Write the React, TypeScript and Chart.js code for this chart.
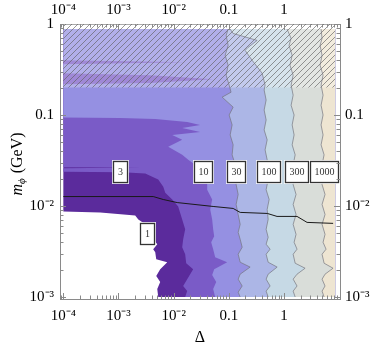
import React, { useEffect, useRef } from 'react';
import { Chart, registerables } from 'chart.js';

Chart.register(...registerables);

type P = [number, number];

// ---- axis ranges ----
const X_MIN = 8.7e-5;
const X_MAX = 10.4;
const Y_MIN = 9.5e-4;
const Y_MAX = 1.0;

// ---- data extents ----
const DELTA_MAX = 8.5;
const MASS_MIN = 1e-3;
const MASS_TOP = 0.88;
const HATCH_MASS_MIN = 0.2;

// ---- tick labels ----
const xTickValues = [1e-4, 1e-3, 1e-2, 0.1, 1];
const xTickLabels = ['10\u207B\u2074', '10\u207B\u00B3', '10\u207B\u00B2', '0.1', '1'];
const yTickValues = [1e-3, 1e-2, 0.1, 1];
const yTickLabels = ['10\u207B\u00B3', '10\u207B\u00B2', '0.1', '1'];

// ---- contour levels / colours ----
const levelNames = ['1', '3', '10', '30', '100', '300', '1000'];
const levelColors = ['#5b2b9c', '#7a5bc7', '#9590e2', '#acb6e6', '#c6d9e5', '#d9ddd9', '#eee5d2'];

// contour boundaries [Δ, m_φ], from bottom to top; value grows to the right
const contour1: P[] = [[5.26e-3, 1e-3], [5.05e-3, 1.22e-3], [5.71e-3, 1.46e-3], [4.84e-3, 1.7e-3], [5.71e-3, 2.02e-3], [7.66e-3, 2.41e-3], [4.84e-3, 2.6e-3], [4.64e-3, 3.1e-3], [4.26e-3, 3.35e-3], [5.05e-3, 3.8e-3], [4.26e-3, 4.3e-3], [4.09e-3, 5.13e-3], [3.47e-3, 5.97e-3], [2.29e-3, 7.12e-3], [2.01e-3, 7.88e-3], [4.68e-4, 8.49e-3], [1e-4, 8.71e-3], [1e-4, 0.88]];
const contour3: P[] = [[0.0162, 1e-3], [0.0176, 1.16e-3], [0.0149, 1.32e-3], [0.0226, 2.02e-3], [0.0169, 2.35e-3], [0.0162, 2.95e-3], [0.0143, 3.52e-3], [0.0149, 4.3e-3], [0.0162, 5.54e-3], [0.0143, 7.12e-3], [0.0121, 9.87e-3], [9.44e-3, 0.0118], [7.05e-3, 0.014], [6.49e-3, 0.0163], [5.26e-3, 0.0195], [4.09e-3, 0.021], [3.06e-3, 0.0227], [1.17e-3, 0.0235], [1e-4, 0.0238], [1e-4, 0.026], [2.7e-3, 0.0264], [1e-4, 0.0267], [1e-4, 0.88]];
const contour10: P[] = [[0.0567, 1e-3], [0.0521, 1.22e-3], [0.0592, 1.46e-3], [0.05, 1.74e-3], [0.0544, 2.02e-3], [0.0935, 2.41e-3], [0.0567, 2.74e-3], [0.0521, 3.35e-3], [0.048, 3.99e-3], [0.0544, 4.64e-3], [0.0521, 5.54e-3], [0.05, 7.12e-3], [0.0461, 9.16e-3], [0.05, 0.0118], [0.0406, 0.0151], [0.0406, 0.0195], [0.0344, 0.0251], [0.0246, 0.0284], [0.0184, 0.0322], [0.0143, 0.0365], [7.98e-3, 0.0447], [0.0143, 0.0533], [9.44e-3, 0.0604], [0.0303, 0.0652], [0.0143, 0.0721], [0.0303, 0.0778], [0.0176, 0.0838], [4.64e-3, 0.0904], [1.08e-3, 0.0927], [1e-4, 0.0939], [1e-4, 0.218], [3.77e-3, 0.224], [0.0521, 0.247], [3.77e-3, 0.274], [1e-4, 0.288], [1e-4, 0.361], [0.0176, 0.379], [1e-4, 0.399], [1e-4, 0.88]];
const contour30: P[] = [[0.161, 1e-3], [0.148, 1.13e-3], [0.175, 1.32e-3], [0.148, 1.57e-3], [0.161, 1.78e-3], [0.244, 2.13e-3], [0.161, 2.41e-3], [0.148, 2.95e-3], [0.175, 3.52e-3], [0.161, 4.3e-3], [0.148, 5.13e-3], [0.161, 6.28e-3], [0.148, 8.07e-3], [0.136, 0.0104], [0.148, 0.0134], [0.136, 0.0172], [0.148, 0.0221], [0.131, 0.0284], [0.115, 0.0365], [0.12, 0.047], [0.106, 0.0604], [0.115, 0.0778], [0.1016, 0.1], [0.12, 0.122], [0.0759, 0.157], [0.11, 0.178], [0.1016, 0.213], [0.0897, 0.274], [0.0975, 0.352], [0.0861, 0.453], [0.0975, 0.582], [0.0897, 0.748], [0.0975, 0.88]];
const contour100: P[] = [[0.518, 1e-3], [0.476, 1.16e-3], [0.562, 1.32e-3], [0.476, 1.57e-3], [0.518, 1.78e-3], [0.754, 2.13e-3], [0.518, 2.41e-3], [0.476, 2.95e-3], [0.562, 3.35e-3], [0.476, 3.8e-3], [0.518, 4.53e-3], [0.476, 5.54e-3], [0.518, 7.12e-3], [0.497, 9.16e-3], [0.54, 0.0118], [0.476, 0.0151], [0.518, 0.0195], [0.476, 0.0251], [0.497, 0.0322], [0.456, 0.0414], [0.497, 0.0533], [0.438, 0.0686], [0.476, 0.0882], [0.438, 0.1134], [0.476, 0.146], [0.438, 0.188], [0.456, 0.213], [0.403, 0.288], [0.265, 0.399], [0.198, 0.513], [0.224, 0.553], [0.327, 0.66], [0.12, 0.787], [0.106, 0.88]];
const contour300: P[] = [[1.6, 1e-3], [1.47, 1.16e-3], [1.73, 1.32e-3], [1.47, 1.57e-3], [1.73, 1.78e-3], [2.42, 2.07e-3], [1.6, 2.35e-3], [1.47, 2.95e-3], [1.73, 3.35e-3], [1.53, 3.99e-3], [1.66, 4.88e-3], [1.47, 6.28e-3], [1.66, 8.07e-3], [1.47, 0.0104], [1.66, 0.0134], [1.47, 0.0172], [1.6, 0.0221], [1.47, 0.0284], [1.6, 0.0365], [1.41, 0.047], [1.53, 0.0604], [1.41, 0.0778], [1.53, 0.1], [1.35, 0.128], [1.47, 0.165], [1.35, 0.213], [1.47, 0.274], [1.29, 0.352], [1.41, 0.453], [1.24, 0.582], [1.35, 0.695], [1.14, 0.88]];
const contour1000: P[] = [[5.35, 1e-3], [4.92, 1.16e-3], [5.57, 1.32e-3], [4.92, 1.57e-3], [5.57, 1.78e-3], [7.78, 2.07e-3], [5.35, 2.35e-3], [4.92, 2.95e-3], [5.81, 3.35e-3], [5.13, 3.99e-3], [5.57, 4.88e-3], [4.92, 6.28e-3], [5.57, 8.07e-3], [4.92, 0.0104], [5.57, 0.0134], [4.92, 0.0172], [5.35, 0.0221], [4.92, 0.0284], [5.35, 0.0365], [4.72, 0.047], [5.13, 0.0604], [4.72, 0.0778], [5.13, 0.1], [4.72, 0.128], [5.13, 0.165], [4.72, 0.213], [5.13, 0.274], [4.53, 0.352], [4.92, 0.453], [4.53, 0.582], [4.92, 0.695], [4.72, 0.88]];

// black curve [Δ, m_φ]
const blackCurve: P[] = [[1e-4, 0.0127], [4.26e-3, 0.0127], [6.49e-3, 0.01178], [0.0116, 0.0109], [0.052, 0.00988], [0.12, 0.0094], [0.161, 0.0085], [0.5, 0.00828], [0.75, 0.00768], [1.73, 0.00768], [2.63, 0.0066], [7.8, 0.00644]];

// contour labels
const labelTexts = ['1', '3', '10', '30', '100', '300', '1000'];
const labelDelta = [3.33e-3, 1.08e-3, 0.0337, 0.133, 0.518, 1.66, 5.24];
const labelMass = [4.99e-3, 0.0239, 0.0239, 0.0239, 0.0239, 0.0239, 0.0239];

const SERIF = '"Liberation Serif", "Times New Roman", serif';

const toXY = (pts: P[]) => pts.map(([x, y]) => ({ x, y }));

const overlayPlugin = {
  id: 'overlay',
  afterDatasetsDraw(chart: any) {
    const { ctx } = chart;
    const xs = chart.scales.x;
    const ys = chart.scales.y;
    ctx.save();
    ctx.font = `10px ${SERIF}`;
    labelTexts.forEach((t, i) => {
      const cx = xs.getPixelForValue(labelDelta[i]);
      const cy = ys.getPixelForValue(labelMass[i]);
      const tw = ctx.measureText(t).width;
      const w = Math.max(14, Math.round(tw + 8));
      const h = 21;
      const x0 = Math.round(cx - w / 2) + 0.5;
      const y0 = Math.round(cy - h / 2) + 0.5;
      ctx.fillStyle = 'rgba(255,255,255,0.85)';
      ctx.fillRect(x0 - 1.5, y0 - 1.5, w + 3, h + 3);
      ctx.fillStyle = '#ffffff';
      ctx.fillRect(x0, y0, w, h);
      ctx.strokeStyle = '#333';
      ctx.lineWidth = 1.3;
      ctx.strokeRect(x0, y0, w, h);
      ctx.fillStyle = '#333';
      ctx.textAlign = 'center';
      ctx.textBaseline = 'middle';
      ctx.fillText(t, x0 + w / 2, y0 + h / 2 + 0.5);
    });
    ctx.restore();
  },
  afterDraw(chart: any) {
    const { ctx, chartArea: a } = chart;
    const xs = chart.scales.x;
    const ys = chart.scales.y;
    ctx.save();
    ctx.strokeStyle = '#8a8a8a';
    ctx.lineWidth = 1;
    ctx.beginPath();
    for (let d = -5; d <= 1; d++) {
      for (let k = 1; k <= 9; k++) {
        const v = k * Math.pow(10, d);
        const len = k === 1 ? 6 : 3.5;
        if (v >= X_MIN && v <= X_MAX) {
          const p = Math.round(xs.getPixelForValue(v)) + 0.5;
          if (p > a.left + 1 && p < a.right - 1) {
            ctx.moveTo(p, a.bottom);
            ctx.lineTo(p, a.bottom - len);
            ctx.moveTo(p, a.top);
            ctx.lineTo(p, a.top + len);
          }
        }
        if (v >= Y_MIN && v <= Y_MAX) {
          const p = Math.round(ys.getPixelForValue(v)) + 0.5;
          if (p > a.top + 1 && p < a.bottom - 1) {
            ctx.moveTo(a.left, p);
            ctx.lineTo(a.left + len, p);
            ctx.moveTo(a.right, p);
            ctx.lineTo(a.right - len, p);
          }
        }
      }
    }
    ctx.stroke();
    ctx.restore();

    // y-axis title: m_ϕ (GeV)
    ctx.save();
    const cy = 164;
    ctx.translate(21.5, cy);
    ctx.rotate(-Math.PI / 2);
    ctx.fillStyle = '#000';
    ctx.textBaseline = 'alphabetic';
    ctx.textAlign = 'left';
    const f1 = `italic 16px ${SERIF}`;
    const f2 = `italic 11px ${SERIF}`;
    const f3 = `16px ${SERIF}`;
    ctx.font = f1;
    const w1 = ctx.measureText('m').width;
    ctx.font = f2;
    const w2 = ctx.measureText('\u03D5').width;
    ctx.font = f3;
    const w3 = ctx.measureText(' (GeV)').width;
    let x0 = -(w1 + w2 + 1 + w3) / 2;
    ctx.font = f1;
    ctx.fillText('m', x0, 0);
    x0 += w1;
    ctx.font = f2;
    ctx.fillText('\u03D5', x0, 3.5);
    x0 += w2 + 1;
    ctx.font = f3;
    ctx.fillText(' (GeV)', x0, 0);
    ctx.restore();
  },
};

export default function App() {
  const ref = useRef<HTMLCanvasElement | null>(null);

  useEffect(() => {
    const canvas = ref.current;
    if (!canvas) return;
    const ctx = canvas.getContext('2d')!;

    const pc = document.createElement('canvas');
    pc.width = 6;
    pc.height = 6;
    const g = pc.getContext('2d')!;
    g.fillStyle = 'rgba(255,255,255,0.28)';
    g.fillRect(0, 0, 6, 6);
    g.strokeStyle = 'rgba(95,95,95,0.8)';
    g.lineWidth = 0.8;
    g.beginPath();
    g.moveTo(0, 6);
    g.lineTo(6, 0);
    g.moveTo(-1, 1);
    g.lineTo(1, -1);
    g.moveTo(5, 7);
    g.lineTo(7, 5);
    g.stroke();
    const hatch = ctx.createPattern(pc, 'repeat');

    const boundaries = [contour1, contour3, contour10, contour30, contour100, contour300, contour1000];
    const fills = boundaries.map((b, i) => ({
      label: `≥ ${levelNames[i]}`,
      data: toXY([...b, [DELTA_MAX, MASS_TOP], [DELTA_MAX, MASS_MIN]] as P[]),
      backgroundColor: levelColors[i],
      borderColor: 'transparent',
      borderWidth: 0,
      pointRadius: 0,
      fill: 'shape',
      order: 100 - i,
    }));
    const lines = [contour30, contour100, contour300, contour1000].map((b, i) => ({
      label: `line ${i}`,
      data: toXY(b),
      borderColor: 'rgba(115,115,125,0.85)',
      borderWidth: 0.8,
      pointRadius: 0,
      fill: false,
      order: 40,
    }));
    const hatchSet = {
      label: 'hatch',
      data: toXY([[1e-4, HATCH_MASS_MIN], [DELTA_MAX, HATCH_MASS_MIN], [DELTA_MAX, Y_MAX], [1e-4, Y_MAX]]),
      backgroundColor: hatch as any,
      borderColor: 'transparent',
      borderWidth: 0,
      pointRadius: 0,
      fill: 'shape',
      order: 50,
    };
    const black = {
      label: 'curve',
      data: toXY(blackCurve),
      borderColor: '#1a1a1a',
      borderWidth: 1,
      pointRadius: 0,
      fill: false,
      order: 30,
    };

    const tickFont = { family: SERIF, size: 15 };
    const border = { display: true, color: '#8a8a8a', width: 1 };

    const chart = new Chart(canvas, {
      type: 'line',
      data: { datasets: [...fills, hatchSet, ...lines, black] as any },
      plugins: [overlayPlugin],
      options: {
        animation: false,
        responsive: false,
        devicePixelRatio: 1,
        indexAxis: 'y',
        events: [],
        layout: { padding: 0 },
        elements: { line: { tension: 0 }, point: { radius: 0 } },
        plugins: { legend: { display: false }, tooltip: { enabled: false } },
        scales: {
          x: {
            type: 'logarithmic',
            position: 'bottom',
            min: X_MIN,
            max: X_MAX,
            grid: { display: false, drawTicks: false },
            border,
            afterBuildTicks: (s: any) => { s.ticks = xTickValues.map((v) => ({ value: v })); },
            afterFit: (s: any) => { s.height = 50; },
            ticks: { font: tickFont, color: '#000', padding: 8, autoSkip: false, maxRotation: 0, minRotation: 0, callback: (_v: any, i: number) => xTickLabels[i] },
            title: { display: true, text: 'Δ', font: { family: SERIF, size: 16 }, color: '#000', padding: { top: 0, bottom: 2 } },
          },
          x2: {
            type: 'logarithmic',
            position: 'top',
            min: X_MIN,
            max: X_MAX,
            grid: { display: false, drawTicks: false },
            border,
            afterBuildTicks: (s: any) => { s.ticks = xTickValues.map((v) => ({ value: v })); },
            afterFit: (s: any) => { s.height = 24; },
            ticks: { font: tickFont, color: '#000', padding: 5, autoSkip: false, maxRotation: 0, minRotation: 0, callback: (_v: any, i: number) => xTickLabels[i] },
          },
          y: {
            type: 'logarithmic',
            position: 'left',
            min: Y_MIN,
            max: Y_MAX,
            grid: { display: false, drawTicks: false },
            border,
            afterBuildTicks: (s: any) => { s.ticks = yTickValues.map((v) => ({ value: v })); },
            afterFit: (s: any) => { s.width = 60; },
            ticks: { font: tickFont, color: '#000', padding: 6, autoSkip: false, callback: (_v: any, i: number) => yTickLabels[i] },
          },
          y2: {
            type: 'logarithmic',
            position: 'right',
            min: Y_MIN,
            max: Y_MAX,
            grid: { display: false, drawTicks: false },
            border,
            afterBuildTicks: (s: any) => { s.ticks = yTickValues.map((v) => ({ value: v })); },
            afterFit: (s: any) => { s.width = 34; },
            ticks: { font: tickFont, color: '#000', padding: 5, autoSkip: false, callback: (_v: any, i: number) => yTickLabels[i] },
          },
        },
      } as any,
    });
    return () => chart.destroy();
  }, []);

  return (
    <div style={{ position: 'absolute', left: 0, top: 0, width: 374, height: 349, background: '#fff' }}>
      <canvas ref={ref} width={374} height={349} style={{ display: 'block' }} />
    </div>
  );
}
